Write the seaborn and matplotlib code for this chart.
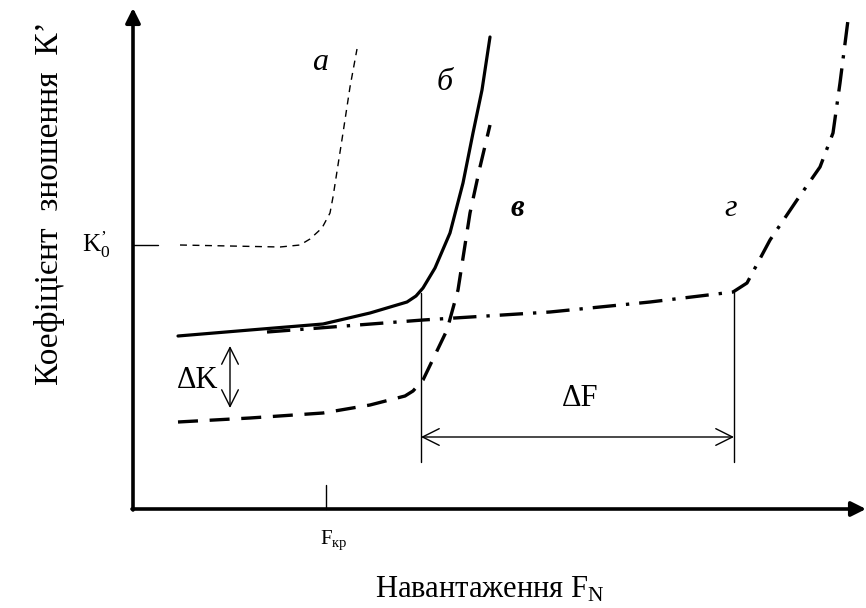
import matplotlib.pyplot as plt
import seaborn as sns
import pandas as pd

# chart units: origin at the axes corner, one unit = one pixel of the reference
curve_a_x = [47, 147, 167, 177, 189, 197, 200, 205, 210, 217, 224]
curve_a_y = [264, 262, 264, 270, 281, 296, 312, 344, 376, 422, 460]

curve_b_x = [45, 117, 190, 237, 274, 283, 290, 302, 317, 330, 340, 349, 357]
curve_b_y = [173, 179, 185, 196, 207, 213, 221, 241, 276, 326, 376, 419, 472]

curve_v_x = [45, 117, 190, 237, 272, 280, 290, 302, 314, 325, 337, 347, 357]
curve_v_y = [87, 91, 96, 104, 113, 118, 129, 154, 179, 219, 296, 342, 384]

curve_g_x = [134, 290, 417, 517, 600, 614, 637, 664, 687, 700, 707, 715]
curve_g_y = [177, 189, 197, 207, 217, 226, 269, 309, 342, 376, 426, 489]

k0_level = 264
f_kr = 193
f_start = 288
f_end = 601
dk_low = 101
dk_high = 163

sns.set_style("white")
plt.rcParams["font.family"] = ["Liberation Serif", "DejaVu Serif"]
plt.rcParams["text.color"] = "black"
plt.rcParams["mathtext.fontset"] = "custom"
plt.rcParams["mathtext.rm"] = "Liberation Serif"
plt.rcParams["mathtext.it"] = "Liberation Serif:italic"

fig = plt.figure(figsize=(8.66, 6.08), dpi=100)
ax = fig.add_axes([0, 0, 1, 1])
ax.set_xlim(-133, 733)
ax.set_ylim(-99, 509)
ax.axis("off")

df_a = pd.DataFrame({"x": curve_a_x, "y": curve_a_y})
df_b = pd.DataFrame({"x": curve_b_x, "y": curve_b_y})
df_v = pd.DataFrame({"x": curve_v_x, "y": curve_v_y})
df_g = pd.DataFrame({"x": curve_g_x, "y": curve_g_y})

sns.lineplot(data=df_a, x="x", y="y", sort=False, color="black", lw=1.0,
             ax=ax).lines[-1].set_dashes((5, 4))
sns.lineplot(data=df_b, x="x", y="y", sort=False, color="black", lw=2.3, ax=ax)
sns.lineplot(data=df_v, x="x", y="y", sort=False, color="black", lw=2.4,
             ax=ax).lines[-1].set_dashes((6, 3.5))
sns.lineplot(data=df_g, x="x", y="y", sort=False, color="black", lw=2.4,
             ax=ax).lines[-1].set_dashes((7, 3, 1, 3))

# axes with arrows
arrow_kw = dict(arrowstyle="-|>", lw=2.6, color="black", mutation_scale=22,
                shrinkA=0, shrinkB=0)
ax.annotate("", xy=(733, 0), xytext=(-1, 0), arrowprops=arrow_kw)
ax.annotate("", xy=(0, 501), xytext=(0, -1), arrowprops=arrow_kw)

# ticks
ax.plot([0, 25], [k0_level, k0_level], color="black", lw=1)
ax.plot([f_kr, f_kr], [0, 24], color="black", lw=1)

# guide lines and dimension arrows
ax.plot([f_start, f_start], [47, 216], color="black", lw=1)
ax.plot([f_end, f_end], [47, 217], color="black", lw=1)
dim_kw = dict(arrowstyle="<->", lw=1, color="black", mutation_scale=30,
              shrinkA=0, shrinkB=0)
ax.annotate("", xy=(f_end, 72), xytext=(f_start, 72), arrowprops=dim_kw)
ax.annotate("", xy=(97, dk_high), xytext=(97, dk_low), arrowprops=dim_kw)

ax.text(447, 111, "ΔF", fontsize=22, ha="center", va="center")
ax.text(65, 128, "ΔK", fontsize=22, ha="center", va="center")

# curve labels
ax.text(187, 447, "а", fontsize=23, style="italic", ha="center", va="center")
ax.text(312, 427, "б", fontsize=23, style="italic", ha="center", va="center")
ax.text(384, 301, "в", fontsize=22, style="italic", weight="bold",
        ha="center", va="center")
ax.text(598, 301, "г", fontsize=23, style="italic", ha="center", va="center")

# tick labels
ax.text(-23, k0_level, r"K$^{’}_{0}$", fontsize=18, ha="right", va="center")
ax.text(f_kr + 8, -31, r"F$_{\mathrm{кр}}$", fontsize=15, ha="center",
        va="center")

# axis titles
ax.text(357, -81, r"Навантаження F$_{\mathrm{N}}$", fontsize=22,
        ha="center", va="center")
ax.text(-83, 306, "Коефіцієнт  зношення  К’", fontsize=24, rotation=90,
        ha="center", va="center")

fig.savefig("out.png", dpi=100)
